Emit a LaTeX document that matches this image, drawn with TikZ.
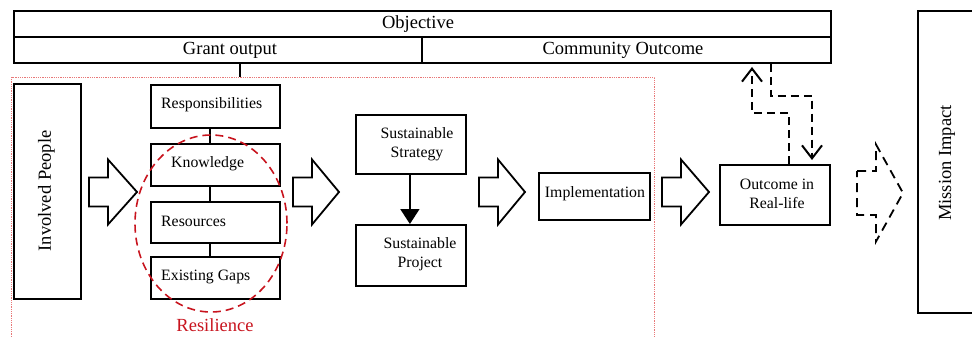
\documentclass[tikz,border=0pt]{standalone}
\usepackage{fontspec}
\setmainfont{Liberation Serif}
\usetikzlibrary{arrows.meta,calc}
\definecolor{resred}{RGB}{200,20,30}
\definecolor{dotred}{RGB}{232,120,120}
\begin{document}
\begin{tikzpicture}[x=1pt,y=-1pt,
  box/.style={draw,line width=1.8pt,rectangle,inner sep=0pt,anchor=north west},
  lbl/.style={inner sep=0pt,font=\fontsize{15.8}{19.5}\selectfont,align=center},
  big/.style={inner sep=0pt,font=\fontsize{18.5}{21}\selectfont},
  link/.style={line width=1.8pt},
  dsh/.style={line width=2pt,dash pattern=on 8pt off 5pt},
  barb/.style={-{Straight Barb[length=13pt,width=20pt]}},
  pics/blockarr/.style n args={4}{code={
    \draw[pic actions] (0,-#1) -- (#3,-#1) -- (#3,-#2) -- (#4,0) -- (#3,#2) -- (#3,#1) -- (0,#1) -- cycle;}}
]
\useasboundingbox (0,0) rectangle (972,337);

% top band
\node[box,minimum width=817,minimum height=26] (obj) at (13,10) {};
\node[box,minimum width=408,minimum height=26] (grant) at (13,36) {};
\node[box,minimum width=409,minimum height=26] (comm) at (421,36) {};
\node[big] (objT) at (418,24) {Objective};
\node[big] (grantT) at (230,50) {Grant output};
\node[big] (commT) at (623,50) {Community Outcome};

% red dotted frame
\node[draw=dotred,line width=1pt,dash pattern=on 1pt off 0.8pt,rectangle,inner sep=0pt,anchor=north west,
      minimum width=643,minimum height=275] (frame) at (11,77) {};
\coordinate (gx) at (240,0);
\draw[link] (grant.south -| gx) -- (frame.north -| gx);

% involved people
\node[box,minimum width=67,minimum height=215] (inv) at (13,83) {};
\node[big,rotate=90] (invT) at (46.5,191) {Involved People};

% stack
\node[box,minimum width=129,minimum height=43] (resp) at (150,84) {};
\node[box,minimum width=129,minimum height=42] (know) at (150,143) {};
\node[box,minimum width=129,minimum height=41] (res) at (150,201) {};
\node[box,minimum width=129,minimum height=42] (gaps) at (150,256) {};
\node[lbl,anchor=west] (respT) at (161,105) {Responsibilities};
\node[lbl,anchor=west] (knowT) at (171,164) {Knowledge};
\node[lbl,anchor=west] (resT) at (161,221) {Resources};
\node[lbl,anchor=west] (gapsT) at (161,277) {Existing Gaps};
\coordinate (sx) at (210,0);
\draw[link] (resp.south -| sx) -- (know.north -| sx);
\draw[link] (know.south -| sx) -- (res.north -| sx);
\draw[link] (res.south -| sx) -- (gaps.north -| sx);

% resilience ellipse
\draw[resred,line width=1.6pt,dash pattern=on 8pt off 5pt] (211,223.5) ellipse [x radius=76pt,y radius=88.5pt];
\node[big,text=resred] (resilT) at (215,325) {Resilience};

% strategy / project
\node[box,minimum width=110,minimum height=59] (strat) at (355,114) {};
\node[box,minimum width=110,minimum height=61] (proj) at (355,224) {};
\node[lbl] (stratT) at (417,144) {Sustainable\\Strategy};
\node[lbl] (projT) at (420,254) {Sustainable\\Project};
\draw[link,-{Triangle[length=15pt,width=19pt]}] ([xshift=-1pt]strat.south) -- ([xshift=-1pt]proj.north);

% implementation
\node[box,minimum width=111,minimum height=47] (impl) at (538,172) {};
\node[lbl] (implT) at (595,194) {Implementation};

% outcome
\node[box,minimum width=110,minimum height=60] (outc) at (719,164) {};
\node[lbl] (outcT) at (777,194) {Outcome in\\Real-life};

% mission impact
\node[box,minimum width=100,minimum height=302] (miss) at (917,10) {};
\node[big,rotate=90] (missT) at (947,163) {Mission Impact};

% block arrows
\pic[line width=1.8pt,line join=miter] at (89,192) {blockarr={14.5}{32.5}{19}{48}};
\pic[line width=1.8pt,line join=miter] at (293,192) {blockarr={14.5}{32.5}{19}{46}};
\pic[line width=1.8pt,line join=miter] at (479,192) {blockarr={14.5}{32.5}{19}{46}};
\pic[line width=1.8pt,line join=miter] at (662,192) {blockarr={14.5}{32.5}{19}{47}};
\pic[line width=1.8pt,dash pattern=on 9pt off 6pt] at (857,193) {blockarr={22}{48.5}{19}{46}};

% dashed feedback arrows
\coordinate (upTip) at (752,67);
\draw[dsh,barb] ([xshift=14pt]outc.north) -- ++(0,-51) -| (upTip);
\coordinate (downTip) at (812,160);
\draw[dsh,barb] ([xshift=144.5pt]comm.south) -- ++(0,32) -| (downTip);
\end{tikzpicture}
\end{document}
